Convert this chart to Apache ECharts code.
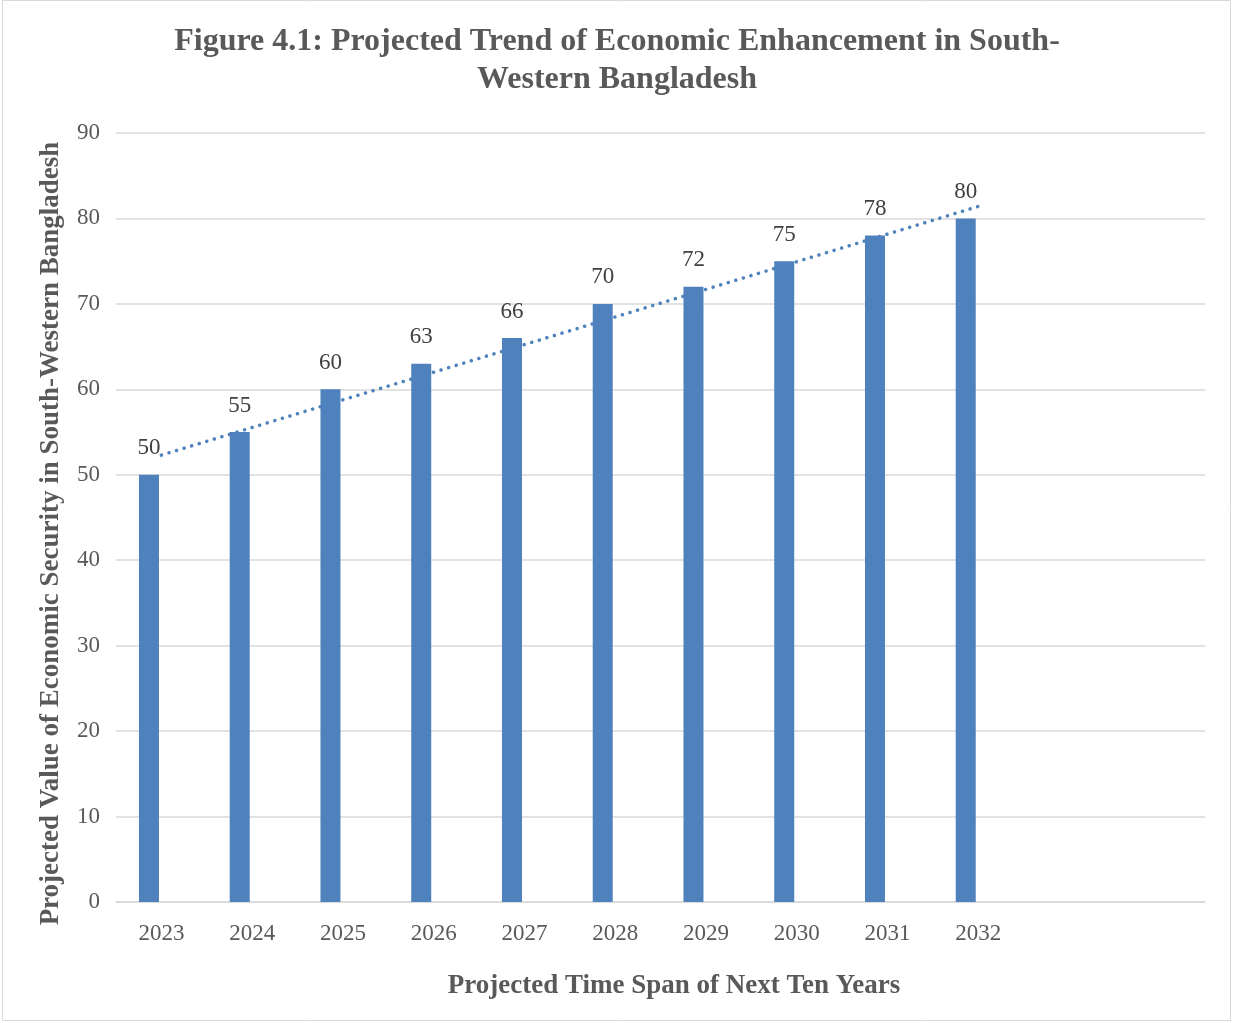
<!DOCTYPE html>
<html>
<head>
<meta charset="utf-8">
<script src="https://cdn.jsdelivr.net/npm/echarts@6/dist/echarts.min.js"></script>
<style>
html,body{margin:0;padding:0;background:#fff;}
#chart{width:1234px;height:1023px;}
</style>
</head>
<body>
<div id="chart"></div>
<script>
// ---- data ----
const years = ['2023','2024','2025','2026','2027','2028','2029','2030','2031','2032'];
const categories = years.concat(['', '']);          // two empty slots on the right, as in the original
const values = [50, 55, 60, 63, 66, 70, 72, 75, 78, 80];
const trendStart = [0, 52.3];                        // dotted trend line end points
const trendEnd = [9, 81.4];
const yTicks = {min: 0, max: 90, interval: 10};

const titleText = 'Figure 4.1: Projected Trend of Economic Enhancement in South-\nWestern Bangladesh';
const xName = 'Projected Time Span of Next Ten Years';
const yName = 'Projected Value of Economic Security in South-Western Bangladesh';

const FONT = '"Liberation Serif", "Times New Roman", serif';
const BLUE = '#4F81BD';

const chart = echarts.init(document.getElementById('chart'));
chart.setOption({
  animation: false,
  backgroundColor: '#fff',
  title: {
    text: titleText,
    left: 'center',
    top: 23,
    padding: 0,
    textStyle: {fontFamily: FONT, fontWeight: 'bold', fontSize: 32, lineHeight: 38, color: '#595959'}
  },
  graphic: [{
    type: 'rect',
    shape: {x: 2.5, y: 0.5, width: 1228, height: 1020},
    style: {fill: 'none', stroke: '#D9D9D9', lineWidth: 1},
    silent: true
  }],
  grid: {left: 116, right: 29, top: 133, bottom: 121, containLabel: false},
  xAxis: {
    type: 'category',
    data: categories,
    axisLine: {lineStyle: {color: '#D9D9D9', width: 1.5}},
    axisTick: {show: false},
    axisLabel: {fontFamily: FONT, fontSize: 23, color: '#595959', margin: 20, interval: 0},
    name: xName,
    nameLocation: 'middle',
    nameGap: 71,
    nameTextStyle: {fontFamily: FONT, fontWeight: 'bold', fontSize: 27, color: '#595959', padding: [0, 0, 0, 27]}
  },
  yAxis: {
    type: 'value',
    min: yTicks.min, max: yTicks.max, interval: yTicks.interval,
    axisLine: {show: false},
    axisTick: {show: false},
    splitLine: {lineStyle: {color: '#D9D9D9', width: 1.5}},
    axisLabel: {fontFamily: FONT, fontSize: 23, color: '#595959', margin: 16},
    name: yName,
    nameLocation: 'middle',
    nameGap: 51,
    nameTextStyle: {fontFamily: FONT, fontWeight: 'bold', fontSize: 27, color: '#595959', padding: [0, 32, 0, 0]}
  },
  series: [
    {
      type: 'bar',
      data: values,
      barWidth: 20,
      barGap: '24%',
      itemStyle: {color: BLUE},
      label: {show: true, position: 'top', distance: 15, fontFamily: FONT, fontSize: 23, color: '#404040'}
    },
    {
      type: 'bar',
      data: [],
      barWidth: 20,
      barGap: '24%'
    },
    {
      type: 'line',
      data: [trendStart, trendEnd],
      symbol: 'none',
      z: 5,
      lineStyle: {color: BLUE, width: 3.5, type: [0.1, 7.8], cap: 'round'}
    }
  ]
});
</script>
</body>
</html>
